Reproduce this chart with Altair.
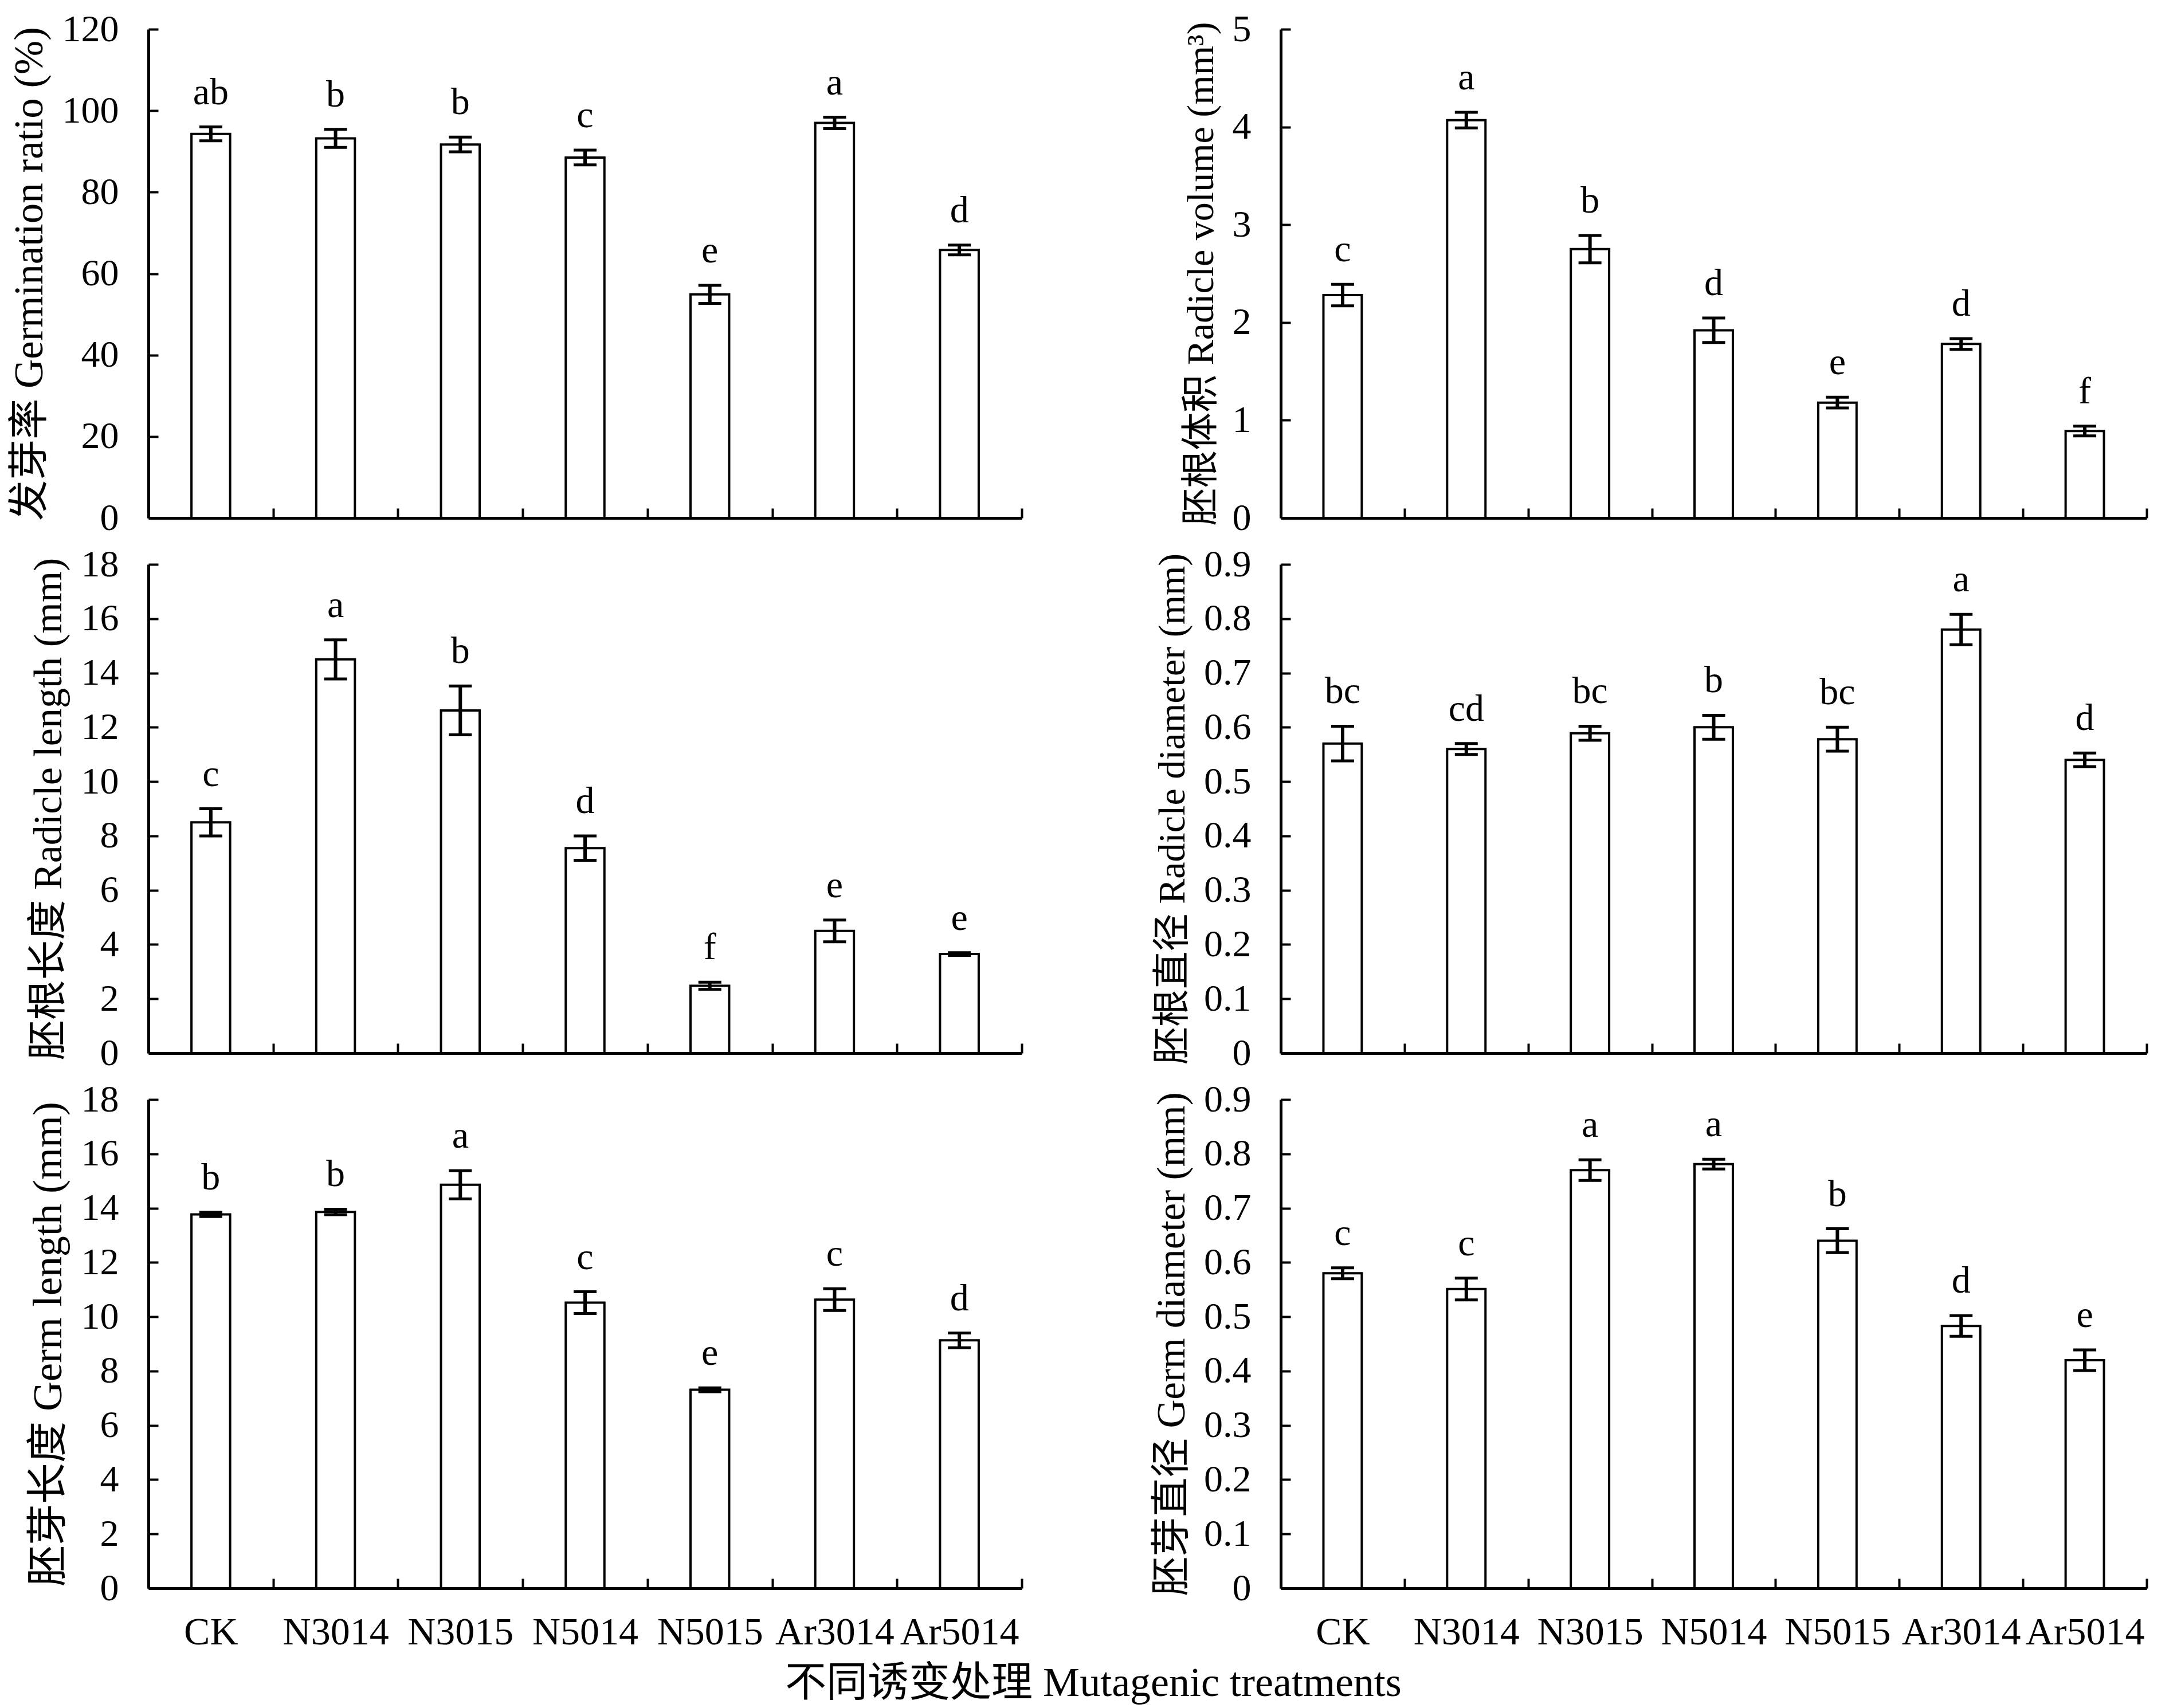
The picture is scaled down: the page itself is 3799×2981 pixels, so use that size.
import altair as alt
import pandas as pd

categories = ["CK", "N3014", "N3015", "N5014", "N5015", "Ar3014", "Ar5014"]

# Germination ratio (%)
gr_mean = [94.3, 93.2, 91.7, 88.5, 54.9, 97.0, 65.8]
gr_err = [1.7, 2.2, 1.8, 1.8, 2.2, 1.4, 1.2]
gr_lab = ["ab", "b", "b", "c", "e", "a", "d"]
gr_ticks = [0, 20, 40, 60, 80, 100, 120]

# Radicle volume (mm3)
rv_mean = [2.28, 4.07, 2.75, 1.92, 1.18, 1.78, 0.89]
rv_err = [0.11, 0.08, 0.14, 0.125, 0.055, 0.055, 0.05]
rv_lab = ["c", "a", "b", "d", "e", "d", "f"]
rv_ticks = [0, 1, 2, 3, 4, 5]

# Radicle length (mm)
rl_mean = [8.5, 14.5, 12.62, 7.55, 2.48, 4.5, 3.65]
rl_err = [0.5, 0.72, 0.9, 0.45, 0.13, 0.4, 0.05]
rl_lab = ["c", "a", "b", "d", "f", "e", "e"]
rl_ticks = [0, 2, 4, 6, 8, 10, 12, 14, 16, 18]

# Radicle diameter (mm)
rd_mean = [0.57, 0.56, 0.589, 0.60, 0.578, 0.78, 0.54]
rd_err = [0.032, 0.01, 0.013, 0.022, 0.022, 0.028, 0.0125]
rd_lab = ["bc", "cd", "bc", "b", "bc", "a", "d"]
rd_ticks = [0, 0.1, 0.2, 0.3, 0.4, 0.5, 0.6, 0.7, 0.8, 0.9]

# Germ length (mm)
gl_mean = [13.77, 13.86, 14.86, 10.52, 7.31, 10.63, 9.13]
gl_err = [0.08, 0.1, 0.52, 0.4, 0.07, 0.4, 0.27]
gl_lab = ["b", "b", "a", "c", "e", "c", "d"]
gl_ticks = [0, 2, 4, 6, 8, 10, 12, 14, 16, 18]

# Germ diameter (mm)
gd_mean = [0.58, 0.551, 0.77, 0.781, 0.64, 0.483, 0.42]
gd_err = [0.01, 0.02, 0.019, 0.009, 0.022, 0.019, 0.019]
gd_lab = ["c", "c", "a", "a", "b", "d", "e"]
gd_ticks = [0, 0.1, 0.2, 0.3, 0.4, 0.5, 0.6, 0.7, 0.8, 0.9]

FONT = "'Liberation Serif', 'Noto Sans CJK SC', serif"
LEFT_W, RIGHT_W, H = 1524, 1511, 853
TICK = 17


def panel(mean, err, lab, ticks, title, title_size, width, show_x):
    df = pd.DataFrame({"cat": categories, "v": mean, "e": err, "lab": lab})
    ysc = alt.Scale(domain=[ticks[0], ticks[-1]], nice=False, zero=True)
    xsc = alt.Scale(paddingInner=0, paddingOuter=0)
    xaxis = alt.Axis(
        title=None, labels=show_x, ticks=False, grid=True, tickBand="extent",
        gridDash=[0, H - TICK, TICK, 10000], gridColor="black", gridWidth=4,
        gridOpacity=1, domain=True, domainColor="black", domainWidth=5,
        labelAngle=0, labelFont=FONT, labelFontSize=68, labelColor="black",
        labelPadding=43, labelLimit=0,
    )
    yaxis = alt.Axis(
        title=title, values=ticks, format="~f", ticks=False, grid=True,
        gridDash=[TICK, 10000], gridColor="black", gridWidth=4, gridOpacity=1,
        domain=True, domainColor="black", domainWidth=5, labelFont=FONT,
        labelFontSize=66, labelColor="black", labelPadding=52, labelLimit=0,
        titleFont=FONT, titleFontSize=title_size, titleFontWeight="normal",
        titleColor="black", titlePadding=20,
    )
    base = alt.Chart(df).transform_calculate(
        lo="datum.v - datum.e", hi="datum.v + datum.e"
    ).encode(x=alt.X("cat:N", sort=categories, scale=xsc, axis=xaxis))
    bars = base.mark_bar(fill="white", stroke="black", strokeWidth=4,
                         width={"band": 0.31}).encode(
        y=alt.Y("v:Q", scale=ysc, axis=yaxis))
    stems = base.mark_rule(color="black", strokeWidth=6).encode(
        y=alt.Y("lo:Q", scale=ysc, axis=yaxis), y2="hi:Q")
    lo_caps = base.mark_tick(color="black", thickness=5, size=40, opacity=1).encode(
        y=alt.Y("lo:Q", scale=ysc, axis=yaxis))
    hi_caps = base.mark_tick(color="black", thickness=5, size=40, opacity=1).encode(
        y=alt.Y("hi:Q", scale=ysc, axis=yaxis))
    text = base.mark_text(dy=-40, baseline="alphabetic", font=FONT, fontSize=66,
                          color="black").encode(
        y=alt.Y("hi:Q", scale=ysc, axis=yaxis), text="lab:N")
    return alt.layer(bars, stems, lo_caps, hi_caps, text).properties(
        width=width, height=H)


p1 = panel(gr_mean, gr_err, gr_lab, gr_ticks, "发芽率 Germination ratio (%)", 71, LEFT_W, False)
p2 = panel(rv_mean, rv_err, rv_lab, rv_ticks, "胚根体积 Radicle volume (mm³)", 66, RIGHT_W, False)
p3 = panel(rl_mean, rl_err, rl_lab, rl_ticks, "胚根长度 Radicle length (mm)", 70, LEFT_W, False)
p4 = panel(rd_mean, rd_err, rd_lab, rd_ticks, "胚根直径 Radicle diameter (mm)", 66, RIGHT_W, False)
p5 = panel(gl_mean, gl_err, gl_lab, gl_ticks, "胚芽长度 Germ length (mm)", 72, LEFT_W, True)
p6 = panel(gd_mean, gd_err, gd_lab, gd_ticks, "胚芽直径 Germ diameter (mm)", 69, RIGHT_W, True)

chart = alt.concat(
    p1, p2, p3, p4, p5, p6, columns=2,
    spacing=alt.RowColnumber(row=15, column=228),
).properties(
    title=alt.TitleParams(
        text="不同诱变处理 Mutagenic treatments", orient="bottom", anchor="middle",
        font=FONT, fontSize=72, fontWeight="normal", color="black", offset=20, dx=27,
    ),
    padding={"left": 8, "top": 10, "right": 5, "bottom": 5},
    background="white",
).configure_view(stroke=None)

chart.save("out.html", embed_options={"renderer": "svg", "actions": False})
